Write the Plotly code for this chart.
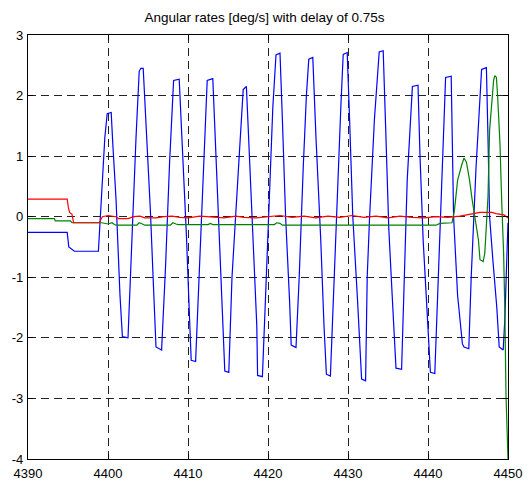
import plotly.graph_objects as go

# ---- data ----
blue_t = [4390.0, 4394.9, 4395.1, 4395.8, 4398.8, 4399.2, 4399.6, 4399.9, 4400.4, 4400.6, 4401.0, 4401.5, 4401.8, 4402.5,
          4403.0, 4403.5, 4403.9, 4404.1, 4404.4, 4404.8, 4405.3, 4405.7, 4406.0, 4406.7,
          4407.2, 4407.7, 4408.2, 4408.9, 4409.3, 4409.8, 4410.2, 4410.4, 4410.95,
          4411.4, 4411.9, 4412.4, 4413.1, 4413.4, 4413.8, 4414.3, 4414.6, 4415.1,
          4415.5, 4416.4, 4416.9, 4417.3, 4417.7, 4418.2, 4418.6, 4418.7, 4419.3,
          4419.7, 4420.2, 4420.6, 4421.0, 4421.5, 4421.8, 4422.2, 4422.7, 4422.9, 4423.5,
          4423.9, 4424.4, 4424.8, 4425.1, 4425.6, 4426.0, 4426.6, 4427.0, 4427.3, 4427.8,
          4428.2, 4428.7, 4429.1, 4429.4, 4429.9, 4430.2, 4430.6, 4431.2, 4431.7, 4432.2,
          4432.4, 4432.7, 4433.3, 4433.9, 4434.4, 4434.7, 4435.1, 4435.6, 4436.0, 4436.7,
          4437.0, 4437.4, 4438.05, 4438.75, 4439.0, 4439.4, 4439.9, 4440.3, 4440.85,
          4441.2, 4441.7, 4442.2, 4442.9, 4443.05, 4443.2, 4443.7, 4444.3, 4444.5, 4445.1,
          4445.4, 4446.0, 4446.7, 4447.3, 4447.5, 4447.7, 4448.1, 4448.6, 4448.9, 4449.4,
          4449.6, 4449.8, 4450.0]
blue_v = [-0.26, -0.26, -0.50, -0.57, -0.57, 0.30, 1.30, 1.70, 1.72, 1.20, 0.30, -1.30, -1.98, -2.00,
          -0.30, 1.30, 2.40, 2.45, 2.45, 1.50, 0.10, -1.20, -2.15, -2.20,
          -0.80, 0.90, 2.25, 2.27, 1.20, -0.30, -1.70, -2.37, -2.39,
          -0.90, 0.80, 2.25, 2.28, 1.30, -0.20, -1.70, -2.55, -2.57,
          -1.00, 1.00, 2.10, 2.15, 1.00, -0.60, -1.80, -2.62, -2.64,
          -1.30, 0.50, 1.80, 2.67, 2.70, 1.60, 0.00, -1.40, -2.12, -2.16,
          -1.00, 0.80, 2.00, 2.60, 2.63, 1.30, -0.40, -1.80, -2.60, -2.63,
          -1.20, 0.50, 1.80, 2.68, 2.71, 1.60, 0.00, -1.40, -2.68, -2.71,
          -1.00, 0.00, 1.60, 2.72, 2.74, 1.50, -0.20, -1.50, -2.50, -2.52,
          -1.00, 0.60, 2.15, 2.17, 1.00, -0.40, -1.60, -2.57, -2.59,
          -1.30, 0.50, 2.30, 2.32, 1.20, 0.00, -1.30, -2.10, -2.15, -2.18,
          -1.00, 0.80, 2.43, 2.46, 1.30, 0.00, -0.70, -1.50, -2.15, -2.20,
          -1.70, -0.90, -0.10]

green_t = [4390.0, 4393.3, 4393.4, 4395.3, 4395.5, 4399.2, 4400.0, 4400.5, 4400.8, 4401.0,
           4403.6, 4403.9, 4404.3, 4404.6, 4407.8, 4408.1, 4408.5, 4408.8,
           4412.5, 4412.8, 4413.1, 4420.8, 4421.1, 4421.5, 4421.8, 4441.0, 4441.5, 4443.0,
           4443.3, 4443.7, 4444.2, 4444.5, 4444.8, 4445.2, 4445.5, 4445.85, 4446.3, 4446.5,
           4446.9, 4447.1, 4447.3, 4447.5, 4447.7, 4448.0, 4448.2, 4448.35, 4448.55, 4448.7,
           4449.0, 4449.2, 4449.45, 4449.6, 4449.75, 4450.0]
green_v = [-0.03, -0.03, -0.07, -0.07, -0.10, -0.10, -0.12, -0.10, -0.13, -0.14,
           -0.14, -0.10, -0.12, -0.14, -0.14, -0.10, -0.12, -0.13,
           -0.13, -0.11, -0.13, -0.13, -0.10, -0.11, -0.14, -0.14, -0.11, -0.10,
           0.10, 0.60, 0.85, 0.97, 0.90, 0.60, 0.30, 0.00, -0.38, -0.71,
           -0.74, -0.60, -0.22, 0.33, 1.43, 1.90, 2.25, 2.33, 2.30, 2.00,
           1.20, 0.30, -0.60, -1.50, -2.95, -4.00]

red_t = [4390.0, 4394.9, 4395.05, 4395.2, 4395.5, 4395.7, 4398.9, 4399.3, 4400.0, 4401.0, 4401.3,
         4402.5, 4403.2, 4404.0, 4404.6, 4406.0, 4407.0, 4408.0, 4409.0, 4410.0, 4411.5,
         4413.0, 4414.5, 4416.0, 4417.0, 4418.5, 4420.0, 4421.5, 4423.0, 4424.5, 4426.0,
         4427.5, 4429.0, 4430.5, 4432.0, 4433.5, 4435.0, 4436.5, 4438.0, 4439.5, 4441.0,
         4442.5, 4444.0, 4445.5, 4446.5, 4448.0, 4448.5, 4449.5, 4450.0]
red_v = [0.29, 0.29, 0.15, 0.07, 0.04, -0.10, -0.10, 0.00, 0.02, 0.00, -0.03,
         -0.03, 0.00, 0.01, -0.02, -0.02, 0.00, 0.01, -0.01, -0.02, 0.01,
         -0.01, -0.02, 0.01, -0.01, -0.02, 0.00, 0.02, -0.01, 0.01, -0.02,
         0.01, -0.01, 0.02, -0.01, 0.01, -0.02, 0.01, -0.01, -0.02, 0.00,
         -0.01, 0.01, 0.05, 0.07, 0.07, 0.05, 0.03, -0.02]

x_ticks = [4390, 4400, 4410, 4420, 4430, 4440, 4450]
y_ticks = [-4, -3, -2, -1, 0, 1, 2, 3]
title_text = "Angular rates [deg/s] with delay of 0.75s"

fig = go.Figure()
for t, v, c in [(blue_t, blue_v, "#0000ff"), (green_t, green_v, "#008000"), (red_t, red_v, "#ff0000")]:
    fig.add_trace(go.Scatter(x=t, y=v, mode="lines", line=dict(color=c, width=1.2), showlegend=False, hoverinfo="skip"))

axis_common = dict(
    showgrid=True, gridcolor="#222222", gridwidth=1, griddash="8px,5px",
    showline=True, linecolor="black", linewidth=1.2, mirror="ticks",
    ticks="inside", ticklen=5, tickcolor="black", zeroline=False, automargin=False,
    tickfont=dict(family="Liberation Sans, Arial", size=13, color="black"),
)
fig.update_xaxes(range=[4390, 4450], tickvals=x_ticks, ticktext=[str(v) for v in x_ticks],
                 ticklabelstandoff=2, **axis_common)
fig.update_yaxes(range=[-4, 3], tickvals=y_ticks, ticktext=[str(v) for v in y_ticks],
                 ticklabelstandoff=1, **axis_common)

fig.update_layout(
    width=529, height=481,
    margin=dict(l=28, r=21, t=35, b=22),
    paper_bgcolor="white", plot_bgcolor="white",
    title=dict(text=title_text, x=0.5, xanchor="center", y=1 - 17.5 / 481, yanchor="middle",
               font=dict(family="Liberation Sans, Arial", size=13.5, color="black")),
)
fig.write_html("out.html")
